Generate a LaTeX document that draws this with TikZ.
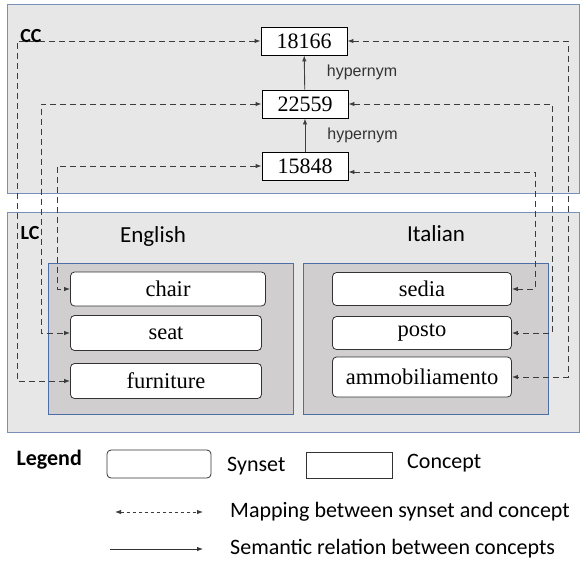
\documentclass[tikz,border=0pt]{standalone}
\usepackage{fontspec}
\setmainfont{Liberation Serif}
\newfontfamily\calib{Carlito}
\newfontfamily\arialf{Liberation Sans}
\usetikzlibrary{arrows.meta,positioning}
\definecolor{regionfill}{HTML}{E7E7E7}
\definecolor{regionline}{HTML}{7890B8}
\definecolor{langfill}{HTML}{D0CECE}
\definecolor{langline}{HTML}{4E6FA6}
\definecolor{dashink}{HTML}{3C3C3C}
\tikzset{
  concept/.style={draw=black,fill=white,line width=0.9pt,minimum width=86pt,minimum height=28pt,inner sep=1pt,font=\fontsize{22}{25}\selectfont},
  synset/.style={draw=black!80,fill=white,rounded corners=4pt,line width=0.8pt,minimum width=191pt,minimum height=34pt,inner sep=1pt,font=\fontsize{22.5}{25}\selectfont},
  mapto/.style={<->,dashink,line width=1pt,dash pattern=on 6pt off 4pt},
  rel/.style={->,black!75,line width=0.9pt},
  lbl/.style={font=\calib\fontsize{22}{25}\selectfont,inner sep=0pt}
}
\begin{document}
\begin{tikzpicture}[x=1pt,y=-1pt,>={Latex[length=6pt,width=4.5pt]}]
\useasboundingbox (0,0) rectangle (581,566);
% regions
\node[draw=regionline,fill=regionfill,line width=1pt,minimum width=572pt,minimum height=189pt,inner sep=0pt] (ccbox) at (293,98.5) {};
\node[draw=regionline,fill=regionfill,line width=1pt,minimum width=572pt,minimum height=220pt,inner sep=0pt] (lcbox) at (293,322) {};
\node[draw=langline,fill=langfill,line width=0.8pt,minimum width=245pt,minimum height=151pt,inner sep=0pt] (enbox) at (170.5,338.5) {};
\node[draw=langline,fill=langfill,line width=0.8pt,minimum width=245pt,minimum height=151pt,inner sep=0pt] (itbox) at (425.5,338.5) {};
\node[font=\calib\bfseries\fontsize{20}{22}\selectfont,inner sep=0pt] (cclbl) at (31,36) {CC};
\node[font=\calib\bfseries\fontsize{20}{22}\selectfont,inner sep=0pt] (lclbl) at (30,233) {LC};
\node[lbl,font=\calib\fontsize{23}{25}\selectfont] (en) at (153,236) {English};
\node[lbl,font=\calib\fontsize{23}{25}\selectfont] (it) at (436,234) {Italian};

% concepts
\node[concept] (c18166) at (304,41) {18166};
\node[concept] (c22559) at (305,104) {22559};
\node[concept] (c15848) at (305,166) {15848};
\draw[rel] (c22559) -- (c18166) node[midway,right=22pt,font=\arialf\fontsize{16}{18}\selectfont,text=black!80,inner sep=0pt] (h1) {hypernym};
\draw[rel] (c15848) -- (c22559) node[midway,right=22pt,font=\arialf\fontsize{16}{18}\selectfont,text=black!80,inner sep=0pt] (h2) {hypernym};

% synsets
\node[synset,minimum width=195pt] (chair) at (168,289) {chair};
\node[synset,minimum height=35pt] (seat) at (166,333) {seat};
\node[synset,minimum height=35pt] (furniture) at (166,381) {furniture};
\node[synset,minimum width=179pt,minimum height=33pt] (sedia) at (422,289) {sedia};
\node[synset,minimum width=179pt,minimum height=33pt] (posto) at (422,333) {posto};
\node[synset,minimum width=179pt,minimum height=40pt] (ammob) at (422,377) {ammobiliamento};

% mappings
\coordinate (xl1) at (17,0); \coordinate (xl2) at (41,0); \coordinate (xl3) at (57,0);
\coordinate (xr1) at (568,0); \coordinate (xr2) at (552,0); \coordinate (xr3) at (535,0);
\draw[mapto] (c18166.west) -| (xl1 |- furniture.west) -- (furniture.west);
\draw[mapto] (c22559.west) -| (xl2 |- seat.west) -- (seat.west);
\draw[mapto] (c15848.west) -| (xl3 |- chair.west) -- (chair.west);
\draw[mapto] (c18166.east) -| (xr1 |- ammob.east) -- (ammob.east);
\draw[mapto] (c22559.east) -| (xr2 |- posto.east) -- (posto.east);
\draw[mapto] ([yshift=-6pt]c15848.east) -| (xr3 |- sedia.east) -- (sedia.east);

% legend
\node[font=\calib\bfseries\fontsize{22}{24}\selectfont,anchor=east,inner sep=0pt] (leg) at (82,460) {Legend};
\node[draw=black!80,rounded corners=4pt,line width=0.8pt,minimum width=104pt,minimum height=28pt] (legsyn) at (159,464) {};
\node[lbl,anchor=west] (legsyntxt) at (227,466) {Synset};
\node[draw=black!80,line width=0.8pt,minimum width=86pt,minimum height=26pt] (legcon) at (349,465) {};
\node[lbl,anchor=west] (legcontxt) at (407,463) {Concept};
\coordinate (m1) at (115,512); \coordinate (m2) at (203,512);
\draw[<->,dashink,line width=0.9pt,dash pattern=on 3pt off 3pt] (m1) -- (m2);
\node[lbl,anchor=west] (legmap) at (230,512) {Mapping between synset and concept};
\coordinate (s1) at (110,549); \coordinate (s2) at (203,549);
\draw[->,black!80,line width=0.9pt] (s1) -- (s2);
\node[lbl,anchor=west] (legrel) at (230,549) {Semantic relation between concepts};
\end{tikzpicture}
\end{document}
